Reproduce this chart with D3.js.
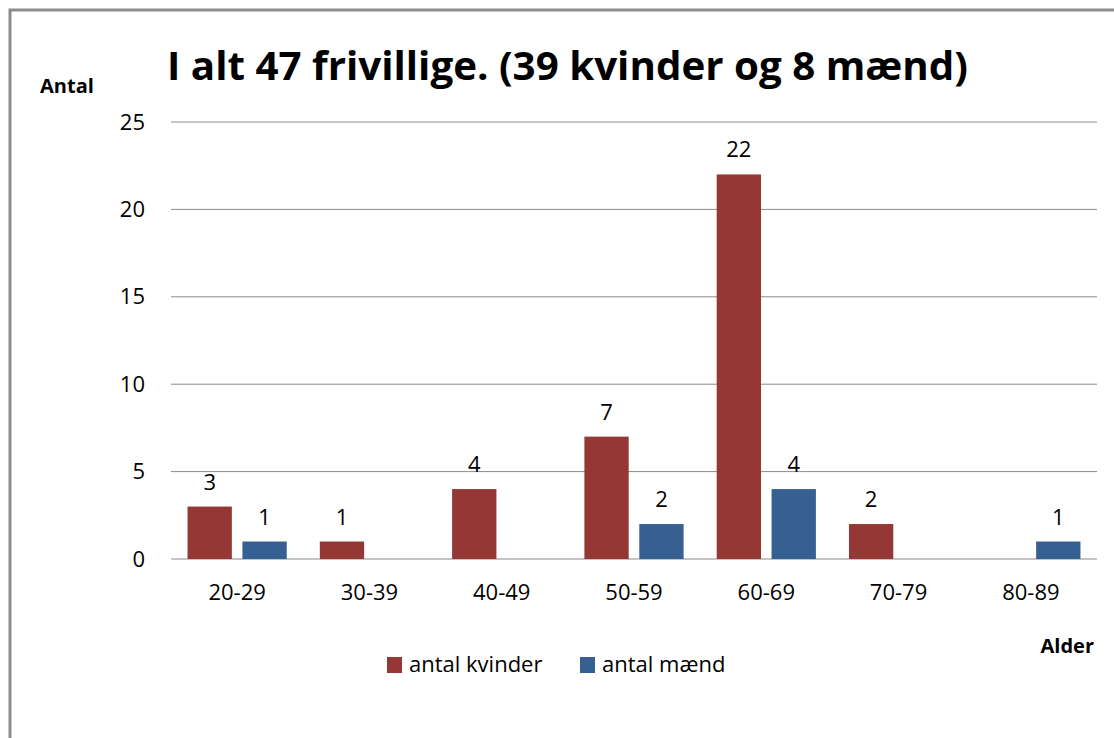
<!DOCTYPE html>
<html>
<head>
<meta charset="utf-8">
<script src="https://cdnjs.cloudflare.com/ajax/libs/d3/7.8.5/d3.min.js"></script>
<style>
  body { margin: 0; background: #fff; }
  text { font-family: "Open Sans", Lato, sans-serif; fill: #000; }
</style>
</head>
<body>
<div id="chart"></div>
<script>
// data
var ageGroups = ['20-29', '30-39', '40-49', '50-59', '60-69', '70-79', '80-89'];
var kvinder = [3, 1, 4, 7, 22, 2, 0];
var maend = [1, 0, 0, 2, 4, 0, 1];
var seriesNames = ['antal kvinder', 'antal mænd'];
var seriesColors = ['#953735', '#376092'];
var yTicks = [0, 5, 10, 15, 20, 25];

var W = 1114, H = 738;
var plotL = 171, plotR = 1097, plotT = 122, plotB = 559;

var svg = d3.select('#chart').append('svg')
  .attr('width', W)
  .attr('height', H);

// outer frame (runs off the right and bottom edges)
svg.append('rect')
  .attr('x', 10).attr('y', 10)
  .attr('width', W + 20).attr('height', H + 20)
  .attr('fill', 'none')
  .attr('stroke', '#8c8c8c')
  .attr('stroke-width', 3);

var x = d3.scaleBand().domain(ageGroups).range([plotL, plotR]);
var y = d3.scaleLinear().domain([0, 25]).range([plotB, plotT]);

// gridlines
svg.append('g').selectAll('line')
  .data(yTicks)
  .enter().append('line')
  .attr('x1', plotL).attr('x2', plotR)
  .attr('y1', function(d){ return y(d); })
  .attr('y2', function(d){ return y(d); })
  .attr('stroke', '#8a8a8a')
  .attr('stroke-width', 1);

// y axis labels
var yAxis = svg.append('g')
  .attr('transform', 'translate(' + (plotL - 26) + ',0)')
  .call(d3.axisLeft(y).tickValues(yTicks).tickSize(0).tickPadding(0));
yAxis.select('.domain').remove();
yAxis.selectAll('text')
  .style('font-size', '22px')
  .style('font-family', '"Open Sans", sans-serif')
  .attr('fill', '#222');

// x axis labels
var xAxis = svg.append('g')
  .attr('transform', 'translate(0,' + plotB + ')')
  .call(d3.axisBottom(x).tickSize(0).tickPadding(25));
xAxis.select('.domain').remove();
xAxis.selectAll('text')
  .style('font-size', '22px')
  .style('font-family', '"Open Sans", sans-serif')
  .attr('fill', '#222');

// bars
var bw = x.bandwidth();
var barW = bw * 0.335;
var gap = bw * 0.08;
var groupOff = (bw - (2 * barW + gap)) / 2;

var rows = [];
ageGroups.forEach(function(g, i){
  rows.push({ g: g, s: 0, v: kvinder[i] });
  rows.push({ g: g, s: 1, v: maend[i] });
});
rows = rows.filter(function(d){ return d.v > 0; });

function barX(d){ return x(d.g) + groupOff + d.s * (barW + gap); }

svg.append('g').selectAll('rect')
  .data(rows)
  .enter().append('rect')
  .attr('x', barX)
  .attr('y', function(d){ return y(d.v); })
  .attr('width', barW)
  .attr('height', function(d){ return y(0) - y(d.v); })
  .attr('fill', function(d){ return seriesColors[d.s]; });

// value labels
svg.append('g').selectAll('text')
  .data(rows)
  .enter().append('text')
  .attr('x', function(d){ return barX(d) + barW / 2; })
  .attr('y', function(d){ return y(d.v) - 17; })
  .attr('text-anchor', 'middle')
  .style('font-size', '22px')
  .attr('fill', '#222')
  .text(function(d){ return d.v; });

// title, fitted to the original width
svg.append('text')
  .attr('x', 167).attr('y', 80)
  .style('font-size', '40px')
  .style('font-weight', 'bold')
  .attr('textLength', 801)
  .attr('lengthAdjust', 'spacingAndGlyphs')
  .text('I alt 47 frivillige. (39 kvinder og 8 mænd)');

// axis titles
svg.append('text')
  .attr('x', 40).attr('y', 93)
  .style('font-size', '20px').style('font-weight', 'bold')
  .text('Antal');
svg.append('text')
  .attr('x', 1094).attr('y', 653)
  .attr('text-anchor', 'end')
  .style('font-size', '20px').style('font-weight', 'bold')
  .text('Alder');

// legend
var legendX = [387, 580];
var legend = svg.append('g').selectAll('g')
  .data(seriesNames)
  .enter().append('g')
  .attr('transform', function(d, i){ return 'translate(' + legendX[i] + ',657)'; });
legend.append('rect')
  .attr('width', 15).attr('height', 16)
  .attr('fill', function(d, i){ return seriesColors[i]; });
legend.append('text')
  .attr('x', 22).attr('y', 15)
  .style('font-size', '22px')
  .attr('fill', '#222')
  .text(function(d){ return d; });
</script>
</body>
</html>
